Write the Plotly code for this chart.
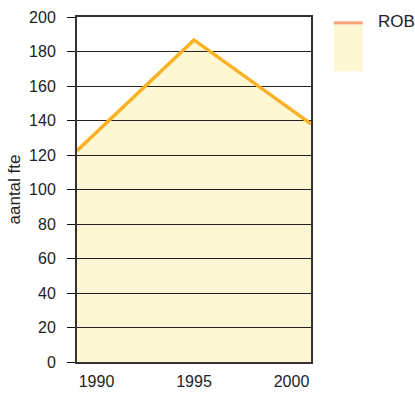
import plotly.graph_objects as go

# data
jaren = [1989, 1995, 2001]
fte = [122.5, 186.7, 138]
reeks = "ROB"
y_ticks = [0, 20, 40, 60, 80, 100, 120, 140, 160, 180, 200]
x_ticks = [1990, 1995, 2000]

GEEL = "#FEF7D3"
ORANJE = "#FBB123"

fig = go.Figure()
# vlak (onderste subplot)
fig.add_trace(go.Scatter(
    x=jaren, y=fte, mode="lines", fill="tozeroy", fillcolor=GEEL,
    line=dict(width=0), showlegend=False, hoverinfo="skip",
))
# lijn in een tweede subplot erboven, zodat rasterlijnen over het vlak liggen
fig.add_trace(go.Scatter(
    x=jaren, y=fte, mode="lines", line=dict(color=ORANJE, width=3.5),
    name=reeks, showlegend=False, xaxis="x2", yaxis="y2",
))

# eigen legenda
fig.add_shape(type="rect", xref="paper", yref="paper",
              x0=1.098, x1=1.221, y0=0.843, y1=0.983,
              fillcolor=GEEL, line=dict(width=0))
fig.add_shape(type="line", xref="paper", yref="paper",
              x0=1.098, x1=1.221, y0=0.983, y1=0.983,
              line=dict(color="#F7A27A", width=3))
fig.add_annotation(text=reeks, xref="paper", yref="paper", x=1.278, y=0.986,
                   xanchor="left", yanchor="middle", showarrow=False,
                   font=dict(size=17, color="#222"))

fig.update_layout(
    width=415, height=394,
    margin=dict(l=77, r=104, t=17, b=32, autoexpand=False),
    paper_bgcolor="white", plot_bgcolor="rgba(0,0,0,0)",
    font=dict(family="Liberation Sans, Arial", size=16, color="#222"),
    xaxis=dict(range=[1989, 2001], tickvals=x_ticks, showgrid=False,
               showline=False, ticks="", ticklabelstandoff=8, zeroline=False,
               automargin=False),
    yaxis=dict(range=[0, 200], tickvals=y_ticks, showgrid=False,
               showline=False, ticks="outside", ticklen=9,
               tickcolor="#111", ticklabelstandoff=8, zeroline=False,
               automargin=False,
               title=dict(text="aantal fte", font=dict(size=17), standoff=4)),
    xaxis2=dict(range=[1989, 2001], anchor="y2", showgrid=False,
                showticklabels=False, showline=True, linecolor="#333",
                linewidth=1.5, mirror=True, ticks="", zeroline=False),
    yaxis2=dict(range=[0, 200], anchor="x2", tickvals=y_ticks,
                showticklabels=False, showgrid=True, gridcolor="#222",
                gridwidth=1.2, showline=True, linecolor="#333",
                linewidth=1.5, mirror=True, ticks="", zeroline=False),
)

fig.write_html("out.html", config={"displayModeBar": False},
               post_script="document.body.style.margin='0';")
